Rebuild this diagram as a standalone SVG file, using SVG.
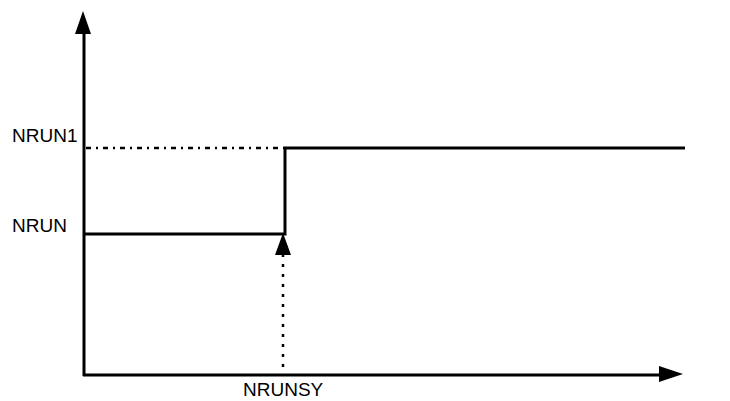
<svg xmlns="http://www.w3.org/2000/svg" width="730" height="401" viewBox="0 0 730 401">
<style>
.ax{stroke:#000;stroke-width:3;fill:none}
.sig{stroke:#000;stroke-width:3;fill:none}
.dd{stroke:#000;stroke-width:2.5;fill:none;stroke-dasharray:5,5,2,5}
.dot{stroke:#000;stroke-width:2.5;fill:none;stroke-dasharray:3,7}
.lbl{font-family:"Liberation Sans",Arial,sans-serif;font-size:19px;fill:#000}
.ah{fill:#000}
</style>
<rect width="730" height="401" fill="#fff"/>
<g id="connectors">
<line class="ax" x1="84" y1="32" x2="84" y2="376"/>
<polygon class="ah" points="83,11 75,34 91,34"/>
<line class="ax" x1="83" y1="375" x2="662" y2="375"/>
<polygon class="ah" points="683,374 659,366 659,382"/>
<line class="dd" x1="86" y1="148" x2="284" y2="148"/>
<polyline class="sig" points="84,234 285,234 285,148 685,148"/>
<line class="dot" x1="283" y1="367" x2="283" y2="254"/>
<polygon class="ah" points="283,233 275,255 291,255"/>
</g>
<g id="label-nrun1"><text class="lbl" x="12" y="142">NRUN1</text></g>
<g id="label-nrun"><text class="lbl" x="12" y="232">NRUN</text></g>
<g id="label-nrunsy"><text class="lbl" x="243" y="396">NRUNSY</text></g>
</svg>
